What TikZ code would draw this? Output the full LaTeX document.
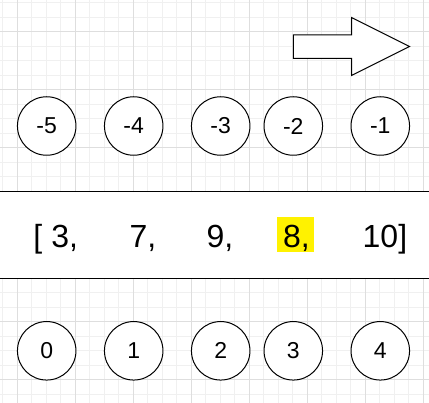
\documentclass[tikz,border=0pt]{standalone}
\usepackage{fontspec}
\setmainfont{Liberation Sans}
\begin{document}
\begin{tikzpicture}[x=1pt,y=-1pt,
  idx/.style={circle,draw=black,line width=1pt,fill=white,minimum size=58.5pt,inner sep=0pt,font=\fontsize{23}{27}\selectfont},
  val/.style={anchor=base west,inner sep=0pt,font=\fontsize{32}{38}\selectfont},
  minorgrid/.style={draw=black!6,line width=0.8pt},
  majorgrid/.style={draw=black!13,line width=0.8pt}]
\useasboundingbox (0,0) rectangle (429,403);
\fill[white] (0,0) rectangle (429,403);
% grid
\foreach \k in {0,...,29} {
  \draw[minorgrid] ({2.8+14.5*\k},0) -- ({2.8+14.5*\k},403);
  \draw[minorgrid] (0,{2.7+14.5*\k}) -- (429,{2.7+14.5*\k});
}
\foreach \k in {0,...,7} {
  \draw[majorgrid] ({17.3+58*\k},0) -- ({17.3+58*\k},403);
  \draw[majorgrid] (0,{31.7+58*\k}) -- (429,{31.7+58*\k});
}
% block arrow
\draw[line width=1pt,fill=white,line join=miter]
  (293.3,35) -- (351.5,35) -- (351.5,17.5) -- (409.5,46.5) -- (351.5,75.5)
  -- (351.5,58.3) -- (293.3,58.3) -- cycle;
% negative indices
\node[idx] (n5) at (46.7,126) {-5};
\node[idx] (n4) at (133.7,126) {-4};
\node[idx] (n3) at (220.7,126) {-3};
\node[idx] (n2) at (293.3,126) {-2};
\node[idx] (n1) at (380.3,126) {-1};
% band
\fill[white] (0,191.7) rectangle (429,278.7);
\draw[line width=1.3pt] (0,191.7) -- (429,191.7);
\draw[line width=1.3pt] (0,278.7) -- (429,278.7);
% values
\node[fill=yellow,inner sep=0pt,minimum width=37pt,minimum height=35pt] (hl) at (295.5,234.5) {};
\node[val] (v0) at (33.3,247.5) {[ 3,};
\node[val] (v1) at (129.5,247.5) {7,};
\node[val] (v2) at (206.5,247.5) {9,};
\node[val] (v3) at (283,247.5) {8,};
\node[val] (v4) at (362.5,247.5) {10]};
% positive indices
\node[idx] (p0) at (46.7,350.8) {0};
\node[idx] (p1) at (133.7,350.8) {1};
\node[idx] (p2) at (220.7,350.8) {2};
\node[idx] (p3) at (293.3,350.8) {3};
\node[idx] (p4) at (380.3,350.8) {4};
\end{tikzpicture}
\end{document}
